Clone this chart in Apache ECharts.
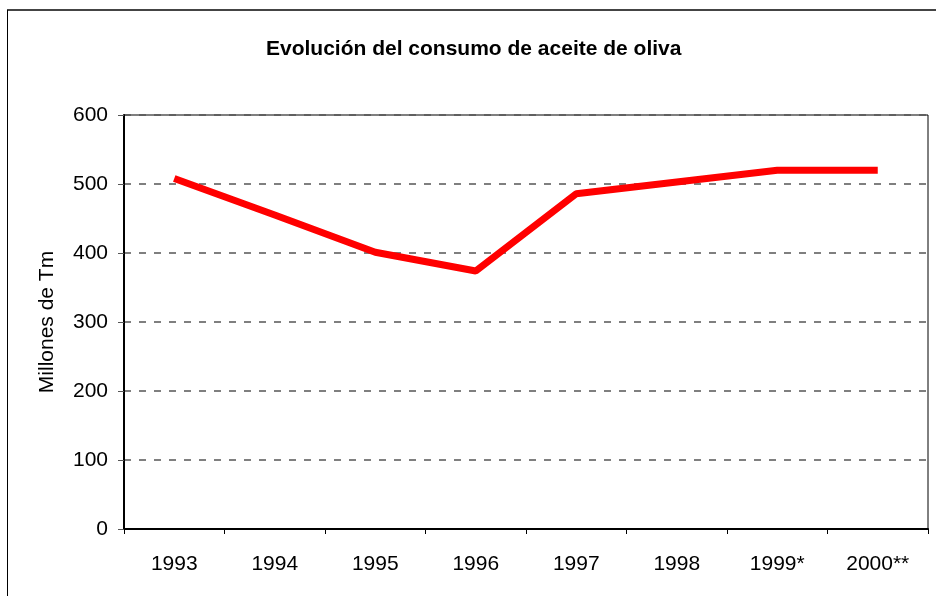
<!DOCTYPE html>
<html>
<head>
<meta charset="utf-8">
<script src="https://cdn.jsdelivr.net/npm/echarts@6/dist/echarts.min.js"></script>
<style>
  html, body { margin: 0; padding: 0; background: #fff; }
  #chart { width: 936px; height: 596px; }
</style>
</head>
<body>
<div id="chart"></div>
<script>
    // datos
    var years = ['1993', '1994', '1995', '1996', '1997', '1998', '1999*', '2000**'];
    var consumo = [508, 455, 401, 374, 486, 503, 520, 520];
    var yMin = 0, yMax = 600, yStep = 100;

    var font = 'Arial, "Liberation Sans", sans-serif';

    echarts.init(document.getElementById('chart')).setOption({
        animation: false,
        backgroundColor: '#fff',
        title: {
            text: 'Evolución del consumo de aceite de oliva',
            left: 261,
            top: 34,
            textStyle: { fontFamily: font, fontSize: 21, fontWeight: 'bold', color: '#000' }
        },
        grid: {
            left: 124,
            right: 8,
            top: 115,
            bottom: 67,
            show: true,
            borderColor: '#000',
            borderWidth: 1
        },
        // marco exterior
        graphic: [
            { type: 'line', shape: { x1: 7, y1: 10, x2: 936, y2: 10 }, style: { stroke: '#444', lineWidth: 2 } },
            { type: 'line', shape: { x1: 7.5, y1: 10, x2: 7.5, y2: 596 }, style: { stroke: '#000', lineWidth: 1 } }
        ],
        xAxis: {
            type: 'category',
            data: years,
            boundaryGap: true,
            axisLine: { lineStyle: { color: '#000', width: 2 } },
            axisTick: { show: true, length: 5, lineStyle: { color: '#000', width: 1 } },
            axisLabel: { fontFamily: font, fontSize: 21, color: '#000', margin: 25 },
            splitLine: { show: false }
        },
        yAxis: {
            type: 'value',
            min: yMin,
            max: yMax,
            interval: yStep,
            name: 'Millones de Tm',
            nameLocation: 'middle',
            nameGap: 66,
            nameTextStyle: { fontFamily: font, fontSize: 21, color: '#000' },
            axisLine: { show: true, lineStyle: { color: '#000', width: 2 } },
            axisTick: { show: true, length: 6, lineStyle: { color: '#555' } },
            axisLabel: { fontFamily: font, fontSize: 21, color: '#000', margin: 16 },
            splitLine: { show: true, lineStyle: { color: '#555', width: 1.5, type: [7, 8] } }
        },
        series: [{
            type: 'line',
            data: consumo,
            showSymbol: false,
            symbol: 'none',
            lineStyle: { color: '#ff0000', width: 7 },
            itemStyle: { color: '#ff0000' }
        }]
    }, null, { renderer: 'canvas' });
</script>
</body>
</html>
